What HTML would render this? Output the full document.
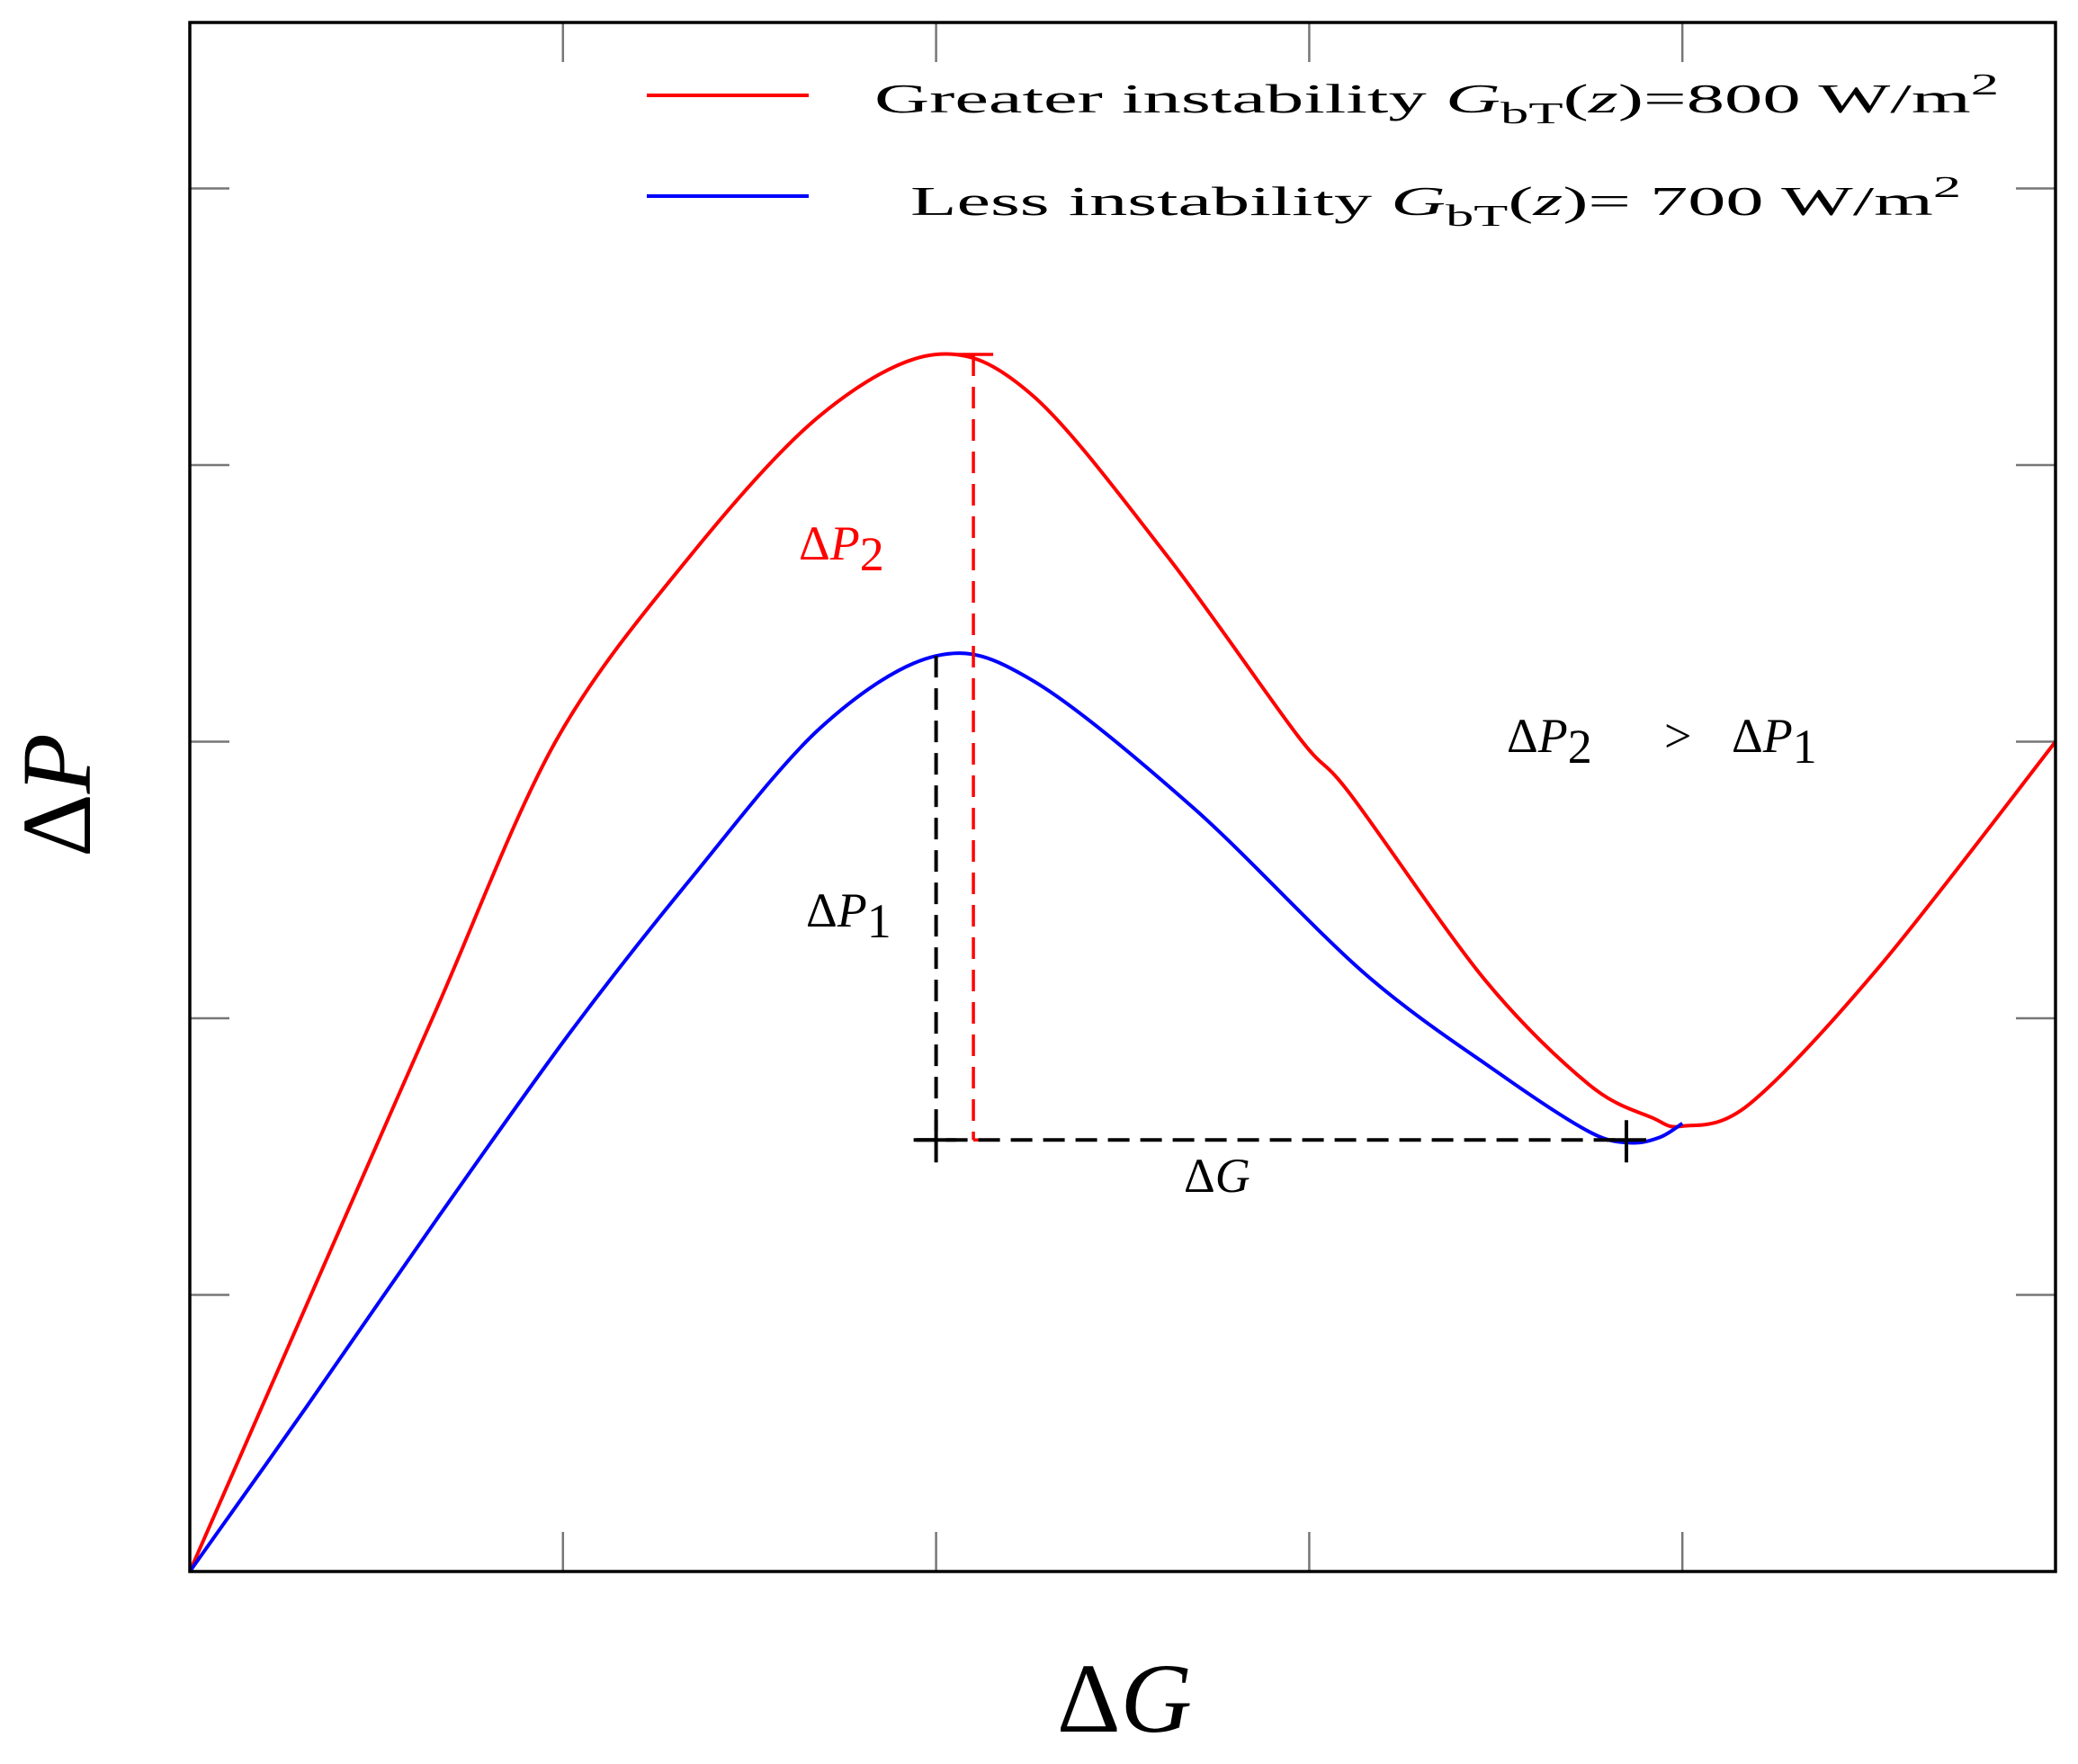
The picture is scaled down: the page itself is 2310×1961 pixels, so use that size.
<!DOCTYPE html>
<html><head><meta charset="utf-8"><style>
html,body{margin:0;padding:0;background:#fff;}
svg{display:block;}
text{font-family:"Liberation Serif",serif;}
</style></head><body>
<svg id="chart" width="2310" height="1961" viewBox="0 0 2310 1961" xmlns="http://www.w3.org/2000/svg">
<g id="ticks"></g>
<g id="series"></g>
<g id="annot"></g>
<rect x="211" y="25" width="2074" height="1722" fill="none" stroke="#000" stroke-width="3.5"/>
<g>
<line x1="719" y1="106" x2="899" y2="106" stroke="#f00" stroke-width="4"/>
<text x="972" y="125" font-size="46" textLength="1250" lengthAdjust="spacingAndGlyphs">Greater instability <tspan font-style="italic">G</tspan><tspan font-size="34" dy="12">bT</tspan><tspan dy="-12">(<tspan font-style="italic">z</tspan>)=800 W/m</tspan><tspan font-size="34" dy="-20">2</tspan></text>
<line x1="719" y1="218" x2="899" y2="218" stroke="#00f" stroke-width="4"/>
<text x="1012" y="239" font-size="46" textLength="1168" lengthAdjust="spacingAndGlyphs">Less instability <tspan font-style="italic">G</tspan><tspan font-size="34" dy="12">bT</tspan><tspan dy="-12">(<tspan font-style="italic">z</tspan>)= 700 W/m</tspan><tspan font-size="34" dy="-20">2</tspan></text>
</g>
<text transform="translate(100,884) rotate(-90)" text-anchor="middle" font-size="110">Δ<tspan font-style="italic">P</tspan></text>
<text x="1250" y="1925" text-anchor="middle" font-size="110">Δ<tspan font-style="italic">G</tspan></text>
<text x="888" y="622" font-size="54" fill="#f00">Δ<tspan font-style="italic">P</tspan><tspan dy="12">2</tspan></text>
<text x="896" y="1030" font-size="54">Δ<tspan font-style="italic">P</tspan><tspan dy="12">1</tspan></text>
<text x="1316" y="1325" font-size="54">Δ<tspan font-style="italic">G</tspan></text>
<text x="1675" y="836" font-size="54">Δ<tspan font-style="italic">P</tspan><tspan dy="12">2</tspan><tspan x="1850" dy="-12">&gt;</tspan><tspan x="1925">Δ</tspan><tspan font-style="italic">P</tspan><tspan dy="12">1</tspan></text>
</svg>
<script>
const xTicks=[1,2,3,4];
const yTicks=[1,2,3,4,5];
const redX=[0,0.38,0.66,0.98,1.34,1.69,2.0,2.26,2.62,2.97,3.11,3.47,3.75,3.92,4.0,4.18,4.53,5.0];
const redY=[0,1.17,2.03,3.0,3.67,4.18,4.40,4.25,3.67,3.02,2.81,2.14,1.76,1.64,1.61,1.69,2.19,3.0];
const blueX=[0,0.31,0.66,1.02,1.34,1.69,2.0,2.26,2.69,3.15,3.51,3.75,3.86,3.94,4.0];
const blueY=[0,0.59,1.27,1.95,2.50,3.05,3.31,3.22,2.76,2.16,1.80,1.59,1.55,1.57,1.62];
const peakBlue=[2.0,3.31], peakRed=[2.1,4.40], baseY=1.56, minX=3.85;
const X0=211,X1=2285,Y0=1747,Y1=25,XMAX=5,YMAX=5.6;
const sx=v=>X0+(X1-X0)*v/XMAX, sy=v=>Y0-(Y0-Y1)*v/YMAX;
const NS="http://www.w3.org/2000/svg";
function mk(t,a,p){const e=document.createElementNS(NS,t);for(const k in a)e.setAttribute(k,a[k]);p.appendChild(e);return e;}
const tg=document.getElementById('ticks');
xTicks.forEach(v=>{
 const a=mk('line',{x1:sx(v),x2:sx(v),y1:Y0,y2:Y0-44,stroke:'#777','stroke-width':2.5},tg);
 
 
 const b=mk('line',{x1:sx(v),x2:sx(v),y1:Y1,y2:Y1+44,stroke:'#777','stroke-width':2.5},tg);
 
 
});
yTicks.forEach(v=>{
 const a=mk('line',{x1:X0,x2:X0+44,y1:sy(v),y2:sy(v),stroke:'#777','stroke-width':2.5},tg);
 
 
 const b=mk('line',{x1:X1,x2:X1-44,y1:sy(v),y2:sy(v),stroke:'#777','stroke-width':2.5},tg);
 
 
});
function path(xs,ys){
 const P=xs.map((x,i)=>[sx(x),sy(ys[i])]);
 let d='M'+P[0][0]+','+P[0][1];
 for(let i=0;i<P.length-1;i++){
  const p0=P[i-1]||P[i],p1=P[i],p2=P[i+1],p3=P[i+2]||P[i+1];
  const k=0.16;
  const c1=[p1[0]+(p2[0]-p0[0])*k,p1[1]+(p2[1]-p0[1])*k];
  const c2=[p2[0]-(p3[0]-p1[0])*k,p2[1]-(p3[1]-p1[1])*k];
  d+=' C'+c1+' '+c2+' '+p2;
 }
 return d;
}
const sg=document.getElementById('series');
const r=mk('path',{d:path(redX,redY),fill:'none',stroke:'#f00','stroke-width':4},sg);


const bl=mk('path',{d:path(blueX,blueY),fill:'none',stroke:'#00f','stroke-width':4},sg);


const ag=document.getElementById('annot');
const v1=mk('line',{x1:sx(peakBlue[0]),x2:sx(peakBlue[0]),y1:sy(peakBlue[1]),y2:sy(baseY),stroke:'#000','stroke-width':4,'stroke-dasharray':'24 12'},ag);


const v2=mk('line',{x1:sx(peakRed[0]),x2:sx(peakRed[0]),y1:sy(peakRed[1]),y2:sy(baseY),stroke:'#f00','stroke-width':3.5,'stroke-dasharray':'24 12'},ag);


const c1=mk('line',{x1:sx(peakRed[0])-18,x2:sx(peakRed[0])+22,y1:sy(peakRed[1]),y2:sy(peakRed[1]),stroke:'#f00','stroke-width':3.5},ag);


const c2=mk('line',{x1:sx(peakRed[0]),x2:sx(peakRed[0])+22,y1:sy(baseY),y2:sy(baseY),stroke:'#f00','stroke-width':3.5},ag);


const h=mk('line',{x1:sx(peakBlue[0])-25,x2:sx(minX),y1:sy(baseY),y2:sy(baseY),stroke:'#000','stroke-width':4,'stroke-dasharray':'24 12'},ag);


[[peakBlue[0]],[minX]].forEach(([x])=>{
 const a=mk('line',{x1:sx(x)-22,x2:sx(x)+22,y1:sy(baseY),y2:sy(baseY),stroke:'#000','stroke-width':4},ag);
 
 
 const b=mk('line',{x1:sx(x),x2:sx(x),y1:sy(baseY)-22,y2:sy(baseY)+25,stroke:'#000','stroke-width':4},ag);
 
 
});
</script>
</body></html>
